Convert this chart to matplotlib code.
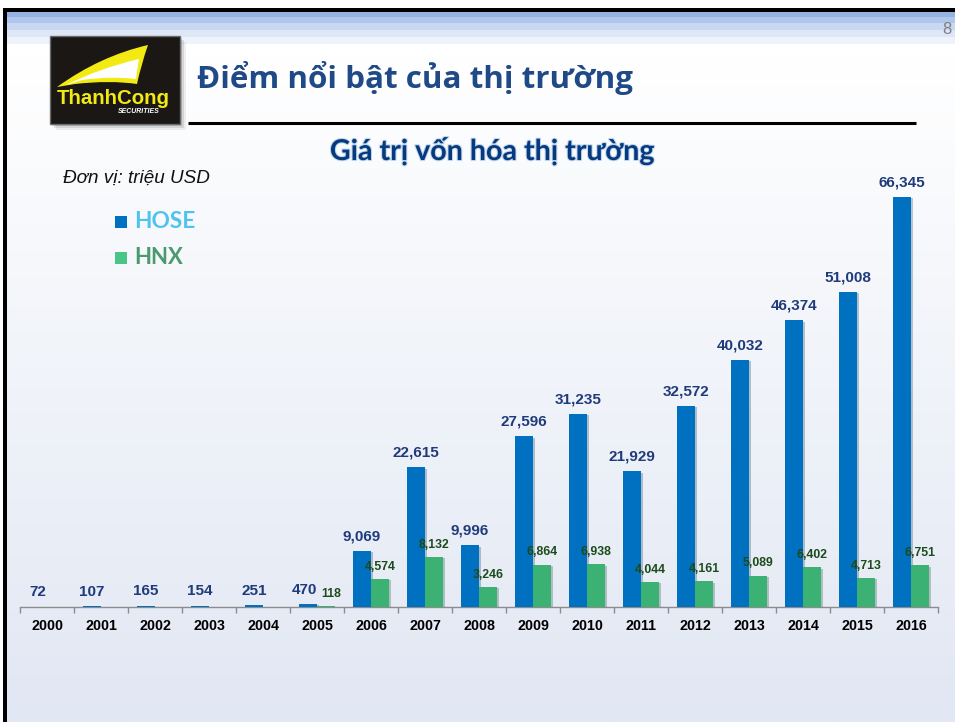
import matplotlib
matplotlib.use('Agg')
import matplotlib.pyplot as plt
import numpy as np
from matplotlib import font_manager
from matplotlib.patches import Rectangle, PathPatch
from matplotlib.path import Path
import matplotlib.patheffects as pe
import matplotlib.colors as mcolors

# ---------------- data ----------------
years = ['2000', '2001', '2002', '2003', '2004', '2005', '2006', '2007', '2008',
         '2009', '2010', '2011', '2012', '2013', '2014', '2015', '2016']
hose = [72, 107, 165, 154, 251, 470, 9069, 22615, 9996, 27596, 31235, 21929,
        32572, 40032, 46374, 51008, 66345]
hnx = [np.nan, np.nan, np.nan, np.nan, np.nan, 118, 4574, 8132, 3246, 6864, 6938,
       4044, 4161, 5089, 6402, 4713, 6751]
series_names = ['HOSE', 'HNX']
page_title = 'Điểm nổi bật của thị trường'
chart_title = 'Giá trị vốn hóa thị trường'
unit_text = 'Đơn vị: triệu USD'

W, H = 955, 722
fig = plt.figure(figsize=(W / 100, H / 100), dpi=100)

avail = {f.name for f in font_manager.fontManager.ttflist}
narrow = 'Liberation Sans Narrow' if 'Liberation Sans Narrow' in avail else 'Liberation Sans'

# ---------------- background axes (pixel coords) ----------------
bg = fig.add_axes([0, 0, 1, 1])
bg.set_xlim(0, W)
bg.set_ylim(H, 0)
bg.axis('off')
bg.set_zorder(0)

c_top = np.array(mcolors.to_rgb('#FFFFFF'))
c_bot = np.array(mcolors.to_rgb('#E1E7F3'))
ys = np.linspace(0, 1, 400)[:, None]
tt = np.clip((ys * H - 45) / (H - 45), 0, 1)
grad = c_top[None, None, :] * (1 - tt[..., None]) + c_bot[None, None, :] * tt[..., None]
grad = np.repeat(grad, 2, axis=1)
bg.imshow(grad, extent=[7, W, H, 12], aspect='auto', zorder=0)

stripes = [(12, 17, '#94B3E3'), (17, 23, '#B0C6EC'), (23, 30, '#C9D8F2'),
           (30, 37, '#DEE7F6'), (37, 44, '#EEF3FB')]
for y0, y1, c in stripes:
    bg.add_patch(Rectangle((7, y0), W - 7, y1 - y0, color=c, lw=0, zorder=1))

bg.add_patch(Rectangle((0, 0), W, 8, color='white', lw=0, zorder=2))
bg.add_patch(Rectangle((0, 0), 3, H, color='white', lw=0, zorder=2))
bg.add_patch(Rectangle((3, 8), W - 3, 4, color='black', lw=0, zorder=3))
bg.add_patch(Rectangle((3, 8), 4, H - 8, color='black', lw=0, zorder=3))

bg.text(942, 30, '8', fontsize=12, color='#808080', ha='left', va='center',
        family='Liberation Sans', zorder=4)

# logo with shadow
for off, a in [(6, 0.06), (4, 0.10), (2, 0.15)]:
    bg.add_patch(Rectangle((50 + off, 36 + off), 130, 88, color='black', alpha=a, lw=0, zorder=3))
bg.add_patch(Rectangle((50, 36), 130, 88, facecolor='#1A1714', edgecolor='#6B6B6B', lw=1, zorder=4))
yel = Path([(57, 87), (100, 56), (148, 45), (148, 45), (141, 65), (137, 84),
            (110, 80), (75, 84), (57, 87), (57, 87)],
           [Path.MOVETO, Path.CURVE3, Path.CURVE3, Path.LINETO, Path.CURVE3, Path.CURVE3,
            Path.CURVE3, Path.CURVE3, Path.LINETO, Path.CLOSEPOLY])
bg.add_patch(PathPatch(yel, facecolor='#F2EA12', edgecolor='none', zorder=5))
wht = Path([(66, 85), (100, 68), (139, 59), (139, 59), (137, 70), (136, 79),
            (110, 76), (82, 80), (66, 85), (66, 85)],
           [Path.MOVETO, Path.CURVE3, Path.CURVE3, Path.LINETO, Path.CURVE3, Path.CURVE3,
            Path.CURVE3, Path.CURVE3, Path.LINETO, Path.CLOSEPOLY])
bg.add_patch(PathPatch(wht, facecolor='#FFFFFF', edgecolor='none', zorder=6))
logo_t = bg.text(113, 98, 'ThanhCong', fontsize=15, color='#F2EA12', ha='center', va='center',
                 family=narrow, fontweight='bold', zorder=7)
sec_t = bg.text(139, 111.5, 'SECURITIES', fontsize=4.3, color='white', ha='center', va='center',
                family='Liberation Sans', fontweight='bold', style='italic', zorder=7)

title_t = bg.text(197, 78, page_title, fontsize=22, color='#1F4A87', ha='left', va='center',
                  family='Open Sans', fontweight='bold', zorder=4)
bg.plot([188, 916], [123, 123], color='black', lw=2.2, zorder=4, solid_capstyle='butt')

sub_t = bg.text(492, 151, chart_title, fontsize=17, color='#053A7E', ha='center', va='center',
                family='Lato', fontweight='bold', zorder=4,
                path_effects=[pe.withStroke(linewidth=1.5, foreground='#BFD3EC')])

unit_t = bg.text(63, 178, unit_text, fontsize=11, color='#111111', ha='left', va='center',
                 family='Liberation Sans', style='italic', zorder=4)

bg.add_patch(Rectangle((115, 216), 12, 12, color='#0070C0', lw=0, zorder=4))
bg.add_patch(Rectangle((115, 252), 12, 12, color='#4BC585', lw=0, zorder=4))
leg1 = bg.text(134, 221, series_names[0], fontsize=15, color='#4DC3F0', ha='left', va='center',
               family='Lato', fontweight='bold', zorder=4)
leg2 = bg.text(134, 258, series_names[1], fontsize=15, color='#4A9A6E', ha='left', va='center',
               family='Lato', fontweight='bold', zorder=4)

# ---------------- chart axes ----------------
ymax = 70000
base_y = 607
top_y = base_y - 410 * ymax / 66345
ax = fig.add_axes([20 / W, (H - base_y) / H, (938 - 20) / W, (base_y - top_y) / H])
ax.set_zorder(5)
ax.patch.set_alpha(0)
x = np.arange(len(years))
w = 0.34
shadow = [pe.SimplePatchShadow(offset=(1.5, -1.0), alpha=0.25), pe.Normal()]
b1 = ax.bar(x - w / 2, hose, width=w, color='#0070C0', zorder=3)
b2 = ax.bar(x + w / 2, hnx, width=w, color='#3BB273', zorder=3)
for b in list(b1) + list(b2):
    b.set_path_effects(shadow)

hose_lbl = {}
for xi, v in zip(x, hose):
    hose_lbl[xi] = ax.annotate(f'{v:,}', (xi - w / 2, v), xytext=(0, 10.5), textcoords='offset points',
                               ha='center', va='center', fontsize=11, fontweight='bold', color='#1F3B7B',
                               family='Liberation Sans', zorder=4)
hnx_lbl = {}
for xi, v in zip(x, hnx):
    if np.isnan(v):
        continue
    hnx_lbl[xi] = ax.annotate(f'{int(v):,}', (xi + w / 2, v), xytext=(0, 8.8), textcoords='offset points',
                              ha='center', va='center', fontsize=8.8, fontweight='bold', color='#1B4A1B',
                              family='Liberation Sans', zorder=4)

ax.set_xlim(-0.5, len(years) - 0.5)
ax.set_ylim(0, ymax)
ax.set_xticks(x)
ax.set_xticklabels(years, fontsize=10.3, fontweight='bold', family='Liberation Sans', color='black')
ax.tick_params(axis='x', which='major', length=0, pad=8.5)
ax.set_xticks(np.arange(-0.5, len(years)), minor=True)
ax.tick_params(axis='x', which='minor', length=4, color='#8C8C8C', width=1)
ax.set_yticks([])
for s in ['top', 'right', 'left']:
    ax.spines[s].set_visible(False)
ax.spines['bottom'].set_color('#8C8C8C')
ax.spines['bottom'].set_linewidth(1)

# ---------------- fit text widths ----------------
fig.canvas.draw()
r = fig.canvas.get_renderer()
def fit(t, width):
    bb = t.get_window_extent(renderer=r)
    t.set_fontsize(t.get_fontsize() * width / bb.width)

fit(title_t, 435)
fit(sub_t, 325)
fit(unit_t, 147)
fit(leg1, 61)
fit(leg2, 49)
fit(logo_t, 113)
fit(sec_t, 42)

# separate overlapping pairs of value labels
fig.canvas.draw()
for xi, t2 in hnx_lbl.items():
    t1 = hose_lbl[xi]
    e1 = t1.get_window_extent(renderer=r)
    e2 = t2.get_window_extent(renderer=r)
    if e1.overlaps(e2):
        gap = e1.x1 - e2.x0 + 4
        ox1, oy1 = t1.xyann
        ox2, oy2 = t2.xyann
        t1.xyann = (ox1 - gap * 0.45 * 72 / 100, oy1)
        t2.xyann = (ox2 + gap * 0.55 * 72 / 100, oy2)

fig.savefig('out.png', dpi=100)
